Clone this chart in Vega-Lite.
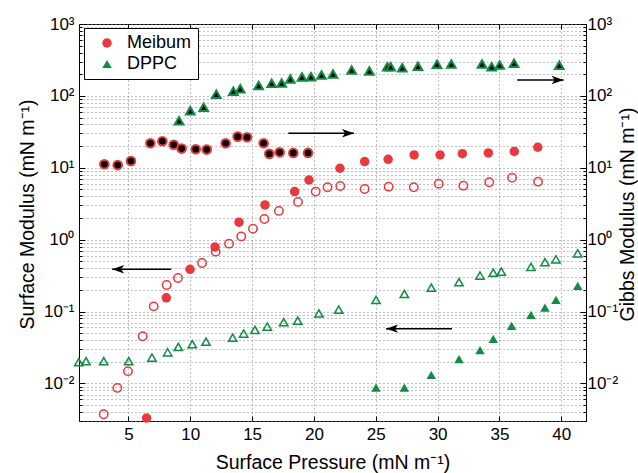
{
  "$schema": "https://vega.github.io/schema/vega-lite/v6.json",
  "width": 507,
  "height": 397,
  "autosize": {"type": "none"},
  "padding": {"left": 79, "top": 24, "right": 52, "bottom": 52},
  "config": {
    "font": "Liberation Sans",
    "view": {"stroke": "#000", "strokeWidth": 1},
    "axis": {
      "domain": false,
      "labelFont": "Liberation Sans",
      "titleFont": "Liberation Sans",
      "labelFontSize": 17,
      "titleFontSize": 19.5,
      "titleFontWeight": "normal",
      "labelColor": "#000",
      "titleColor": "#000",
      "tickColor": "#000",
      "tickWidth": 1,
      "gridColor": "#808080",
      "gridDash": [1, 3],
      "gridOpacity": 1,
      "gridWidth": 1,
      "labelOverlap": false,
      "labelFlush": false
    },
    "legend": {
      "orient": "none",
      "legendX": 5,
      "legendY": 4,
      "strokeColor": "#000",
      "fillColor": "#fff",
      "padding": 6,
      "labelFont": "Liberation Sans",
      "labelFontSize": 18,
      "labelColor": "#000",
      "symbolSize": 90,
      "symbolOffset": 8,
      "labelOffset": 11,
      "rowPadding": 3,
      "symbolStrokeWidth": 0
    }
  },
  "datasets": {
    "pts": [
      {"p": 6.47, "v": 0.0033, "material": "Meibum", "kind": "sf"},
      {"p": 8.06, "v": 0.155, "material": "Meibum", "kind": "sf"},
      {"p": 9.98, "v": 0.387, "material": "Meibum", "kind": "sf"},
      {"p": 12.0, "v": 0.79, "material": "Meibum", "kind": "sf"},
      {"p": 13.94, "v": 1.75, "material": "Meibum", "kind": "sf"},
      {"p": 16.04, "v": 3.04, "material": "Meibum", "kind": "sf"},
      {"p": 18.44, "v": 4.66, "material": "Meibum", "kind": "sf"},
      {"p": 19.6, "v": 6.76, "material": "Meibum", "kind": "sf"},
      {"p": 22.1, "v": 9.85, "material": "Meibum", "kind": "sf"},
      {"p": 24.1, "v": 12.2, "material": "Meibum", "kind": "sf"},
      {"p": 26.0, "v": 13.1, "material": "Meibum", "kind": "sf"},
      {"p": 28.1, "v": 15.1, "material": "Meibum", "kind": "sf"},
      {"p": 30.2, "v": 15.1, "material": "Meibum", "kind": "sf"},
      {"p": 32.0, "v": 15.7, "material": "Meibum", "kind": "sf"},
      {"p": 34.1, "v": 16.1, "material": "Meibum", "kind": "sf"},
      {"p": 36.2, "v": 16.9, "material": "Meibum", "kind": "sf"},
      {"p": 38.1, "v": 19.3, "material": "Meibum", "kind": "sf"},
      {"p": 25.02, "v": 0.00875, "material": "DPPC", "kind": "sf"},
      {"p": 27.31, "v": 0.00875, "material": "DPPC", "kind": "sf"},
      {"p": 29.49, "v": 0.0131, "material": "DPPC", "kind": "sf"},
      {"p": 31.73, "v": 0.0217, "material": "DPPC", "kind": "sf"},
      {"p": 33.43, "v": 0.029, "material": "DPPC", "kind": "sf"},
      {"p": 34.5, "v": 0.0416, "material": "DPPC", "kind": "sf"},
      {"p": 35.98, "v": 0.0631, "material": "DPPC", "kind": "sf"},
      {"p": 37.55, "v": 0.0897, "material": "DPPC", "kind": "sf"},
      {"p": 38.68, "v": 0.113, "material": "DPPC", "kind": "sf"},
      {"p": 39.57, "v": 0.145, "material": "DPPC", "kind": "sf"},
      {"p": 41.33, "v": 0.227, "material": "DPPC", "kind": "sf"},
      {"p": 3.0, "v": 0.00373, "material": "Meibum", "kind": "so"},
      {"p": 4.1, "v": 0.00865, "material": "Meibum", "kind": "so"},
      {"p": 4.96, "v": 0.0148, "material": "Meibum", "kind": "so"},
      {"p": 6.15, "v": 0.0453, "material": "Meibum", "kind": "so"},
      {"p": 7.04, "v": 0.118, "material": "Meibum", "kind": "so"},
      {"p": 8.09, "v": 0.234, "material": "Meibum", "kind": "so"},
      {"p": 9.0, "v": 0.293, "material": "Meibum", "kind": "so"},
      {"p": 10.95, "v": 0.474, "material": "Meibum", "kind": "so"},
      {"p": 12.05, "v": 0.681, "material": "Meibum", "kind": "so"},
      {"p": 13.13, "v": 0.88, "material": "Meibum", "kind": "so"},
      {"p": 14.12, "v": 1.11, "material": "Meibum", "kind": "so"},
      {"p": 15.07, "v": 1.42, "material": "Meibum", "kind": "so"},
      {"p": 15.99, "v": 1.94, "material": "Meibum", "kind": "so"},
      {"p": 17.17, "v": 2.51, "material": "Meibum", "kind": "so"},
      {"p": 18.71, "v": 3.35, "material": "Meibum", "kind": "so"},
      {"p": 20.14, "v": 4.66, "material": "Meibum", "kind": "so"},
      {"p": 21.1, "v": 5.36, "material": "Meibum", "kind": "so"},
      {"p": 22.13, "v": 5.58, "material": "Meibum", "kind": "so"},
      {"p": 24.1, "v": 5.07, "material": "Meibum", "kind": "so"},
      {"p": 26.04, "v": 5.46, "material": "Meibum", "kind": "so"},
      {"p": 28.07, "v": 5.36, "material": "Meibum", "kind": "so"},
      {"p": 30.09, "v": 6.01, "material": "Meibum", "kind": "so"},
      {"p": 32.08, "v": 5.64, "material": "Meibum", "kind": "so"},
      {"p": 34.18, "v": 6.28, "material": "Meibum", "kind": "so"},
      {"p": 36.02, "v": 7.28, "material": "Meibum", "kind": "so"},
      {"p": 38.12, "v": 6.41, "material": "Meibum", "kind": "so"},
      {"p": 0.98, "v": 0.0197, "material": "DPPC", "kind": "so"},
      {"p": 1.57, "v": 0.0204, "material": "DPPC", "kind": "so"},
      {"p": 3.0, "v": 0.0204, "material": "DPPC", "kind": "so"},
      {"p": 5.02, "v": 0.0204, "material": "DPPC", "kind": "so"},
      {"p": 6.9, "v": 0.0229, "material": "DPPC", "kind": "so"},
      {"p": 8.17, "v": 0.0271, "material": "DPPC", "kind": "so"},
      {"p": 9.03, "v": 0.0322, "material": "DPPC", "kind": "so"},
      {"p": 10.16, "v": 0.0351, "material": "DPPC", "kind": "so"},
      {"p": 11.27, "v": 0.0381, "material": "DPPC", "kind": "so"},
      {"p": 13.43, "v": 0.0433, "material": "DPPC", "kind": "so"},
      {"p": 14.32, "v": 0.0493, "material": "DPPC", "kind": "so"},
      {"p": 15.23, "v": 0.0555, "material": "DPPC", "kind": "so"},
      {"p": 16.23, "v": 0.0617, "material": "DPPC", "kind": "so"},
      {"p": 17.55, "v": 0.071, "material": "DPPC", "kind": "so"},
      {"p": 18.69, "v": 0.0747, "material": "DPPC", "kind": "so"},
      {"p": 20.4, "v": 0.094, "material": "DPPC", "kind": "so"},
      {"p": 22.0, "v": 0.106, "material": "DPPC", "kind": "so"},
      {"p": 25.02, "v": 0.145, "material": "DPPC", "kind": "so"},
      {"p": 27.31, "v": 0.176, "material": "DPPC", "kind": "so"},
      {"p": 29.49, "v": 0.215, "material": "DPPC", "kind": "so"},
      {"p": 31.73, "v": 0.256, "material": "DPPC", "kind": "so"},
      {"p": 33.43, "v": 0.316, "material": "DPPC", "kind": "so"},
      {"p": 34.5, "v": 0.347, "material": "DPPC", "kind": "so"},
      {"p": 35.15, "v": 0.359, "material": "DPPC", "kind": "so"},
      {"p": 37.55, "v": 0.417, "material": "DPPC", "kind": "so"},
      {"p": 38.68, "v": 0.485, "material": "DPPC", "kind": "so"},
      {"p": 39.57, "v": 0.533, "material": "DPPC", "kind": "so"},
      {"p": 41.33, "v": 0.646, "material": "DPPC", "kind": "so"},
      {"p": 3.05, "v": 11.2, "material": "Meibum", "kind": "g"},
      {"p": 4.13, "v": 10.9, "material": "Meibum", "kind": "g"},
      {"p": 5.2, "v": 12.4, "material": "Meibum", "kind": "g"},
      {"p": 6.77, "v": 21.9, "material": "Meibum", "kind": "g"},
      {"p": 7.74, "v": 23.4, "material": "Meibum", "kind": "g"},
      {"p": 8.66, "v": 20.9, "material": "Meibum", "kind": "g"},
      {"p": 9.3, "v": 18.5, "material": "Meibum", "kind": "g"},
      {"p": 10.44, "v": 18.1, "material": "Meibum", "kind": "g"},
      {"p": 11.33, "v": 17.9, "material": "Meibum", "kind": "g"},
      {"p": 12.86, "v": 21.9, "material": "Meibum", "kind": "g"},
      {"p": 13.83, "v": 27.1, "material": "Meibum", "kind": "g"},
      {"p": 14.59, "v": 26.6, "material": "Meibum", "kind": "g"},
      {"p": 15.93, "v": 21.9, "material": "Meibum", "kind": "g"},
      {"p": 16.39, "v": 15.6, "material": "Meibum", "kind": "g"},
      {"p": 17.23, "v": 16.4, "material": "Meibum", "kind": "g"},
      {"p": 18.33, "v": 16.1, "material": "Meibum", "kind": "g"},
      {"p": 19.52, "v": 16.1, "material": "Meibum", "kind": "g"},
      {"p": 9.09, "v": 45.2, "material": "DPPC", "kind": "g"},
      {"p": 10.0, "v": 62.3, "material": "DPPC", "kind": "g"},
      {"p": 11.08, "v": 69.4, "material": "DPPC", "kind": "g"},
      {"p": 12.1, "v": 105, "material": "DPPC", "kind": "g"},
      {"p": 13.48, "v": 116, "material": "DPPC", "kind": "g"},
      {"p": 14.04, "v": 126, "material": "DPPC", "kind": "g"},
      {"p": 15.53, "v": 140, "material": "DPPC", "kind": "g"},
      {"p": 16.58, "v": 150, "material": "DPPC", "kind": "g"},
      {"p": 17.39, "v": 151, "material": "DPPC", "kind": "g"},
      {"p": 18.09, "v": 172, "material": "DPPC", "kind": "g"},
      {"p": 19.03, "v": 183, "material": "DPPC", "kind": "g"},
      {"p": 19.76, "v": 185, "material": "DPPC", "kind": "g"},
      {"p": 20.61, "v": 195, "material": "DPPC", "kind": "g"},
      {"p": 21.54, "v": 202, "material": "DPPC", "kind": "g"},
      {"p": 23.05, "v": 229, "material": "DPPC", "kind": "g"},
      {"p": 24.48, "v": 222, "material": "DPPC", "kind": "g"},
      {"p": 25.93, "v": 255, "material": "DPPC", "kind": "g"},
      {"p": 26.2, "v": 255, "material": "DPPC", "kind": "g"},
      {"p": 27.14, "v": 247, "material": "DPPC", "kind": "g"},
      {"p": 28.41, "v": 258, "material": "DPPC", "kind": "g"},
      {"p": 29.95, "v": 275, "material": "DPPC", "kind": "g"},
      {"p": 31.11, "v": 278, "material": "DPPC", "kind": "g"},
      {"p": 33.59, "v": 278, "material": "DPPC", "kind": "g"},
      {"p": 34.37, "v": 255, "material": "DPPC", "kind": "g"},
      {"p": 35.02, "v": 269, "material": "DPPC", "kind": "g"},
      {"p": 36.18, "v": 284, "material": "DPPC", "kind": "g"},
      {"p": 39.84, "v": 267, "material": "DPPC", "kind": "g"}
    ],
    "arrows": [
      {"x1": 8.45, "x2": 3.68, "y": 0.387, "dir": "left"},
      {"x1": 17.93, "x2": 23.24, "y": 30.2, "dir": "right"},
      {"x1": 36.44, "x2": 40.19, "y": 166, "dir": "right"},
      {"x1": 31.16, "x2": 25.83, "y": 0.0578, "dir": "left"}
    ]
  },
  "layer": [
    {
      "data": {"name": "pts"},
      "transform": [{"filter": "datum.kind == 'sf'"}],
      "mark": {"type": "point", "filled": true, "opacity": 1, "size": 90, "clip": false},
      "encoding": {
        "x": {
          "field": "p", "type": "quantitative",
          "scale": {"domain": [1, 42], "nice": false, "zero": false},
          "axis": {
            "orient": "bottom",
            "values": [5, 10, 15, 20, 25, 30, 35, 40],
            "grid": true,
            "tickSize": -5,
            "labelPadding": 10,
            "title": "Surface Pressure (mN m⁻¹)",
            "titleBaseline": "alphabetic",
            "titleY": 47
          }
        },
        "y": {
          "field": "v", "type": "quantitative",
          "scale": {"type": "log", "domain": [0.003, 1000], "nice": false},
          "axis": {
            "orient": "left",
            "values": [0.003, 0.004, 0.005, 0.006, 0.007, 0.008, 0.009, 0.01, 0.02, 0.03, 0.04, 0.05, 0.06, 0.07, 0.08, 0.09, 0.1, 0.2, 0.3, 0.4, 0.5, 0.6, 0.7, 0.8, 0.9, 1, 2, 3, 4, 5, 6, 7, 8, 9, 10, 20, 30, 40, 50, 60, 70, 80, 90, 100, 200, 300, 400, 500, 600, 700, 800, 900, 1000],
            "grid": true,
            "labelExpr": "datum.value == 1000 ? '10³' : datum.value == 100 ? '10²' : datum.value == 10 ? '10¹' : datum.value == 1 ? '10⁰' : datum.value == 0.1 ? '10⁻¹' : datum.value == 0.01 ? '10⁻²' : ''",
            "tickSize": {"condition": {"test": "datum.value == 1000 || datum.value == 100 || datum.value == 10 || datum.value == 1 || datum.value == 0.1 || datum.value == 0.01", "value": -6}, "value": -3},
            "labelPadding": 11,
            "title": "Surface Modulus (mN m⁻¹)",
            "titleBaseline": "alphabetic",
            "titleX": -46,
            "titleY": 190
          }
        },
        "color": {
          "field": "material", "type": "nominal",
          "scale": {"domain": ["Meibum", "DPPC"], "range": ["#e8393c", "#108c45"]},
          "legend": {"title": null}
        },
        "shape": {
          "field": "material", "type": "nominal",
          "scale": {"domain": ["Meibum", "DPPC"], "range": ["circle", "triangle-up"]},
          "legend": {"title": null}
        }
      }
    },
    {
      "data": {"name": "pts"},
      "transform": [{"filter": "datum.kind == 'so'"}],
      "mark": {"type": "point", "filled": false, "opacity": 1, "size": 70, "strokeWidth": 1.5, "clip": false},
      "encoding": {
        "x": {"field": "p", "type": "quantitative", "scale": {"domain": [1, 42], "nice": false, "zero": false}, "axis": null},
        "y": {"field": "v", "type": "quantitative", "scale": {"type": "log", "domain": [0.003, 1000], "nice": false}, "axis": null},
        "color": {"field": "material", "type": "nominal", "scale": {"domain": ["Meibum", "DPPC"], "range": ["#e8393c", "#108c45"]}, "legend": null},
        "shape": {"field": "material", "type": "nominal", "scale": {"domain": ["Meibum", "DPPC"], "range": ["circle", "triangle-up"]}, "legend": null}
      }
    },
    {
      "data": {"name": "pts"},
      "transform": [{"filter": "datum.kind == 'g'"}],
      "mark": {"type": "point", "filled": true, "fill": "#000", "opacity": 1, "fillOpacity": 1, "strokeOpacity": 1, "size": 75, "strokeWidth": 2, "clip": false},
      "encoding": {
        "x": {
          "field": "p", "type": "quantitative",
          "scale": {"domain": [1, 42], "nice": false, "zero": false},
          "axis": {"orient": "top", "values": [5, 10, 15, 20, 25, 30, 35, 40], "grid": false, "labels": false, "tickSize": -5, "title": null}
        },
        "y": {
          "field": "v", "type": "quantitative",
          "scale": {"type": "log", "domain": [0.003, 1000], "nice": false},
          "axis": {
            "orient": "right",
            "values": [0.003, 0.004, 0.005, 0.006, 0.007, 0.008, 0.009, 0.01, 0.02, 0.03, 0.04, 0.05, 0.06, 0.07, 0.08, 0.09, 0.1, 0.2, 0.3, 0.4, 0.5, 0.6, 0.7, 0.8, 0.9, 1, 2, 3, 4, 5, 6, 7, 8, 9, 10, 20, 30, 40, 50, 60, 70, 80, 90, 100, 200, 300, 400, 500, 600, 700, 800, 900, 1000],
            "grid": false,
            "labelExpr": "datum.value == 1000 ? '10³' : datum.value == 100 ? '10²' : datum.value == 10 ? '10¹' : datum.value == 1 ? '10⁰' : datum.value == 0.1 ? '10⁻¹' : datum.value == 0.01 ? '10⁻²' : ''",
            "tickSize": {"condition": {"test": "datum.value == 1000 || datum.value == 100 || datum.value == 10 || datum.value == 1 || datum.value == 0.1 || datum.value == 0.01", "value": -6}, "value": -3},
            "labelPadding": 7,
            "title": "Gibbs Modulus (mN m⁻¹)",
            "titleAngle": 270,
            "titleBaseline": "alphabetic",
            "titleX": 47,
            "titleY": 190
          }
        },
        "stroke": {"field": "material", "type": "nominal", "scale": {"domain": ["Meibum", "DPPC"], "range": ["#e8393c", "#108c45"]}, "legend": null},
        "shape": {"field": "material", "type": "nominal", "scale": {"domain": ["Meibum", "DPPC"], "range": ["circle", "triangle-up"]}, "legend": null}
      }
    },
    {
      "data": {"name": "arrows"},
      "mark": {"type": "rule", "color": "#000", "strokeWidth": 1.5},
      "encoding": {
        "x": {"field": "x1", "type": "quantitative", "scale": {"domain": [1, 42], "nice": false, "zero": false}, "axis": null},
        "x2": {"field": "x2"},
        "y": {"field": "y", "type": "quantitative", "scale": {"type": "log", "domain": [0.003, 1000], "nice": false}, "axis": null}
      }
    },
    {
      "data": {"name": "arrows"},
      "transform": [{"filter": "datum.dir == 'left'"}],
      "mark": {"type": "point", "filled": true, "color": "#000", "opacity": 1, "size": 144, "strokeWidth": 0, "shape": "M0,0L2,-0.7L1.5,0L2,0.7Z"},
      "encoding": {
        "x": {"field": "x2", "type": "quantitative", "scale": {"domain": [1, 42], "nice": false, "zero": false}, "axis": null},
        "y": {"field": "y", "type": "quantitative", "scale": {"type": "log", "domain": [0.003, 1000], "nice": false}, "axis": null}
      }
    },
    {
      "data": {"name": "arrows"},
      "transform": [{"filter": "datum.dir == 'right'"}],
      "mark": {"type": "point", "filled": true, "color": "#000", "opacity": 1, "size": 144, "strokeWidth": 0, "shape": "M0,0L-2,-0.7L-1.5,0L-2,0.7Z"},
      "encoding": {
        "x": {"field": "x2", "type": "quantitative", "scale": {"domain": [1, 42], "nice": false, "zero": false}, "axis": null},
        "y": {"field": "y", "type": "quantitative", "scale": {"type": "log", "domain": [0.003, 1000], "nice": false}, "axis": null}
      }
    }
  ],
  "resolve": {"axis": {"x": "independent", "y": "independent"}}
}
